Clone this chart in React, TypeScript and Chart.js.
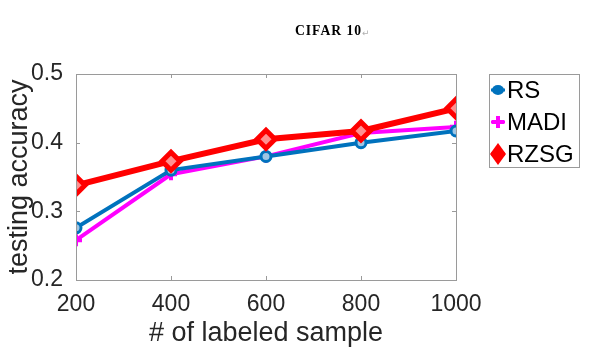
import React, { useEffect, useRef } from "react";
import { Chart, registerables } from "chart.js";

Chart.register(...registerables);

const categories = [200, 400, 600, 800, 1000];
const rsValues = [0.276, 0.36, 0.38, 0.4, 0.417];
const madiValues = [0.258, 0.354, 0.38, 0.414, 0.423];
const rzsgValues = [0.338, 0.373, 0.405, 0.417, 0.45];
const seriesNames = ["RS", "MADI", "RZSG"];
const yTicks = [0.2, 0.3, 0.4, 0.5];
const titleText = "CIFAR 10";

const W = 591;
const H = 353;

const framePlugin = {
  id: "frame",
  afterDatasetsDraw(chart: any) {
    const { ctx, chartArea } = chart;
    const { left, right, top, bottom } = chartArea;
    ctx.save();
    ctx.strokeStyle = "#9a9a9a";
    ctx.lineWidth = 1;
    ctx.strokeRect(left + 0.5, top + 0.5, right - left, bottom - top);
    const xs = chart.scales.x;
    const ys = chart.scales.y;
    ctx.beginPath();
    categories.forEach((c) => {
      const px = Math.round(xs.getPixelForValue(c)) + 0.5;
      ctx.moveTo(px, bottom);
      ctx.lineTo(px, bottom - 4);
      ctx.moveTo(px, top);
      ctx.lineTo(px, top + 4);
    });
    yTicks.forEach((t) => {
      const py = Math.round(ys.getPixelForValue(t)) + 0.5;
      ctx.moveTo(left, py);
      ctx.lineTo(left + 4, py);
      ctx.moveTo(right, py);
      ctx.lineTo(right - 4, py);
    });
    ctx.stroke();
    ctx.restore();
  },
  afterDraw(chart: any) {
    const { ctx } = chart;
    ctx.save();
    // title
    ctx.fillStyle = "#000";
    ctx.font = "bold 14px 'Liberation Serif'";
    ctx.textBaseline = "middle";
    ctx.textAlign = "left";
    try { (ctx as any).letterSpacing = "1px"; } catch (e) {}
    ctx.fillText(titleText, 295, 31, 67);
    try { (ctx as any).letterSpacing = "0px"; } catch (e) {}
    ctx.fillStyle = "#b0b0b0";
    ctx.font = "9px 'DejaVu Sans'";
    ctx.fillText("\u21B5", 362, 34);

    // legend
    const bx = 489, by = 74, bw = 90, bh = 93;
    ctx.fillStyle = "#fff";
    ctx.fillRect(bx, by, bw, bh);
    ctx.strokeStyle = "#9a9a9a";
    ctx.lineWidth = 1;
    ctx.strokeRect(bx + 0.5, by + 0.5, bw, bh);
    const rows = [90, 122, 154];
    chart.data.datasets.forEach((ds: any, i: number) => {
      const y = rows[i];
      const mx = 498;
      ctx.strokeStyle = ds.borderColor;
      ctx.lineWidth = 3;
      ctx.beginPath();
      ctx.moveTo(491, y);
      ctx.lineTo(505, y);
      ctx.stroke();
      ctx.fillStyle = ds.borderColor;
      if (ds.pointStyle === "circle") {
        ctx.beginPath();
        ctx.ellipse(mx, y, 6, 5, 0, 0, Math.PI * 2);
        ctx.fill();
      } else if (ds.pointStyle === "cross") {
        ctx.lineWidth = 4;
        ctx.beginPath();
        ctx.moveTo(mx - 6, y);
        ctx.lineTo(mx + 6, y);
        ctx.moveTo(mx, y - 6);
        ctx.lineTo(mx, y + 6);
        ctx.stroke();
      } else {
        ctx.beginPath();
        ctx.moveTo(mx, y - 11);
        ctx.lineTo(mx + 8, y);
        ctx.lineTo(mx, y + 11);
        ctx.lineTo(mx - 8, y);
        ctx.closePath();
        ctx.fill();
      }
      ctx.fillStyle = "#000";
      ctx.font = "24px 'Liberation Sans'";
      ctx.textAlign = "left";
      ctx.textBaseline = "middle";
      ctx.fillText(ds.label, 507, y + 1, 70);
    });
    ctx.restore();
  },
};

export default function App() {
  const ref = useRef<HTMLCanvasElement>(null);
  useEffect(() => {
    document.body.style.margin = "0";
    const toXY = (vals: number[]) => categories.map((c, i) => ({ x: c, y: vals[i] }));
    const chart = new Chart(ref.current as HTMLCanvasElement, {
      type: "line",
      data: {
        datasets: [
          {
            label: seriesNames[0],
            data: toXY(rsValues),
            borderColor: "#0072BD",
            backgroundColor: "#0072BD",
            borderWidth: 4,
            pointStyle: "circle",
            pointRadius: 5,
            pointBorderWidth: 3,
            pointBackgroundColor: "#9fc6e4",
            order: 1,
          },
          {
            label: seriesNames[1],
            data: toXY(madiValues),
            borderColor: "#FF00FF",
            backgroundColor: "#FF00FF",
            borderWidth: 4,
            pointStyle: "cross",
            pointRadius: 6,
            pointBorderWidth: 4,
            order: 2,
          },
          {
            label: seriesNames[2],
            data: toXY(rzsgValues),
            borderColor: "#FF0000",
            backgroundColor: "#FF0000",
            borderWidth: 6,
            pointStyle: "rectRot",
            pointRadius: 9,
            pointBorderWidth: 5,
            pointBackgroundColor: "#ff9090",
            order: 0,
          },
        ],
      },
      options: {
        responsive: false,
        animation: false,
        layout: { padding: { left: 0, right: W - 456, top: 74, bottom: 0 } },
        plugins: { legend: { display: false }, tooltip: { enabled: false }, title: { display: false } },
        scales: {
          x: {
            type: "linear",
            min: 200,
            max: 1000,
            afterBuildTicks: (s: any) => {
              s.ticks = categories.map((v) => ({ value: v }));
            },
            afterFit: (s: any) => {
              s.height = H - 280;
            },
            grid: { display: false, drawTicks: false },
            border: { display: false },
            ticks: {
              padding: 11,
              color: "#262626",
              font: { family: "'Liberation Sans'", size: 23 },
              maxRotation: 0,
              callback: (v: any) => String(v),
            },
            title: {
              display: true,
              text: "# of labeled sample",
              color: "#262626",
              font: { family: "'Liberation Sans'", size: 27 },
              padding: { top: 0, bottom: 3 },
            },
          },
          y: {
            min: 0.2,
            max: 0.5,
            afterBuildTicks: (s: any) => {
              s.ticks = yTicks.map((v) => ({ value: v }));
            },
            afterFit: (s: any) => {
              s.width = 76;
            },
            grid: { display: false, drawTicks: false },
            border: { display: false },
            ticks: {
              padding: 13,
              color: "#262626",
              font: { family: "'Liberation Sans'", size: 23 },
              callback: (v: any) => Number(v).toFixed(1),
            },
            title: {
              display: true,
              text: "testing accuracy",
              color: "#262626",
              font: { family: "'Liberation Sans'", size: 27 },
              padding: { top: 3, bottom: 0 },
            },
          },
        },
      },
      plugins: [framePlugin],
    } as any);
    return () => chart.destroy();
  }, []);
  return (
    <div style={{ width: W, height: H, background: "#fff" }}>
      <canvas ref={ref} width={W} height={H} />
    </div>
  );
}
